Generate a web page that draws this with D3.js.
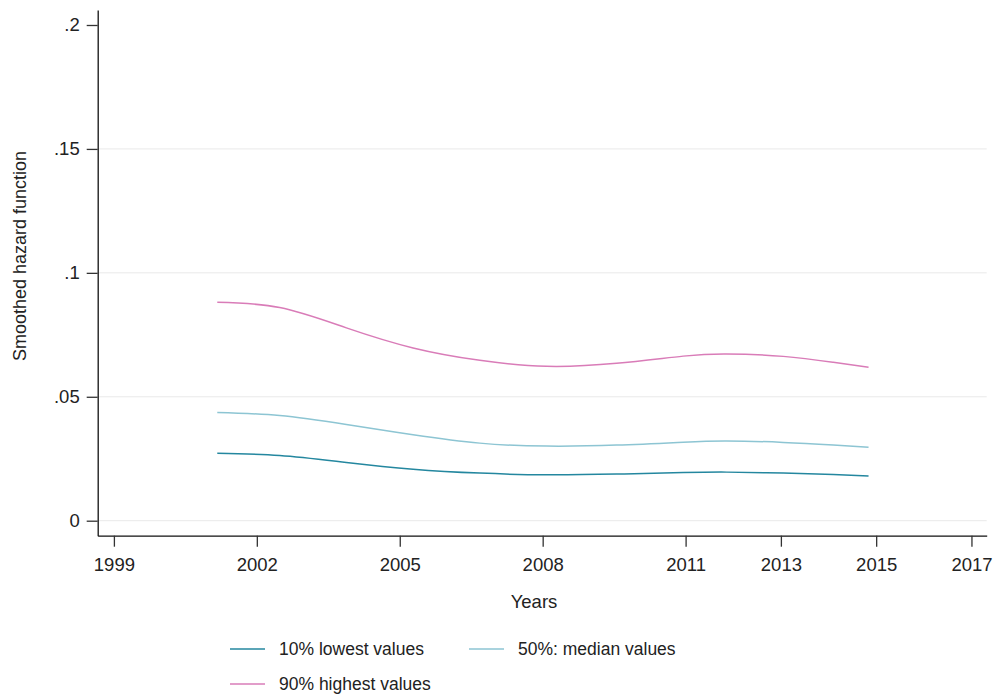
<!DOCTYPE html>
<html><head><meta charset="utf-8">
<script src="https://cdn.jsdelivr.net/npm/d3@7"></script>
<style>body{margin:0;background:#fff}svg{display:block}text{font-family:"Liberation Sans",Arial,sans-serif;fill:#222}</style>
</head><body><svg id="c" width="997" height="698"></svg>
<script>
const years = [2001.17, 2002.48, 2003.88, 2005.28, 2006.68, 2008.08, 2009.55, 2010.95, 2011.86, 2013.05, 2014.1, 2014.84];
const lowest = [0.0272, 0.0263, 0.0235, 0.0208, 0.0192, 0.0185, 0.0188, 0.0194, 0.0196, 0.0192, 0.0186, 0.0180];
const median = [0.0437, 0.0424, 0.0388, 0.0347, 0.0313, 0.0301, 0.0305, 0.0317, 0.0322, 0.0316, 0.0305, 0.0296];
const highest = [0.0881, 0.0860, 0.0778, 0.0697, 0.0647, 0.0623, 0.0635, 0.0664, 0.0673, 0.0663, 0.0639, 0.0619];
const xTicks = [1999, 2002, 2005, 2008, 2011, 2013, 2015, 2017];
const yTicks = [0, 0.05, 0.1, 0.15, 0.2];
const yTickLabels = ["0", ".05", ".1", ".15", ".2"];
const seriesNames = ["10% lowest values", "50%: median values", "90% highest values"];
const seriesColors = ["#24879f", "#8dc5d3", "#d97cb8"];

const svg = d3.select("#c");
const x = d3.scaleLinear().domain([1998.66, 2017.32]).range([97.7, 986.7]);
const y = d3.scaleLinear().domain([-0.00605, 0.20605]).range([535.7, 10]);

// gridlines
svg.append("g").selectAll("line").data(yTicks.filter(d => d < 0.2)).join("line")
  .attr("x1", x.range()[0]).attr("x2", x.range()[1])
  .attr("y1", d => y(d)).attr("y2", d => y(d))
  .attr("stroke", "#e9e9e9").attr("stroke-width", 1);

// y axis
const yAxis = svg.append("g").attr("transform", `translate(${x.range()[0]},0)`)
  .call(d3.axisLeft(y).tickValues(yTicks).tickFormat((d, i) => yTickLabels[i]).tickSize(11).tickPadding(7).tickSizeOuter(0));
yAxis.select(".domain").attr("stroke", "#111").attr("stroke-width", 1.3);
yAxis.selectAll(".tick line").attr("stroke", "#333").attr("stroke-width", 1.3);
yAxis.selectAll(".tick text").style("font-size", "18.5px").attr("fill", "#222");

// x axis
const xAxis = svg.append("g").attr("transform", `translate(0,${y.range()[0]})`)
  .call(d3.axisBottom(x).tickValues(xTicks).tickFormat(d3.format("d")).tickSize(11).tickPadding(11).tickSizeOuter(0));
xAxis.select(".domain").attr("stroke", "#111").attr("stroke-width", 1.3);
xAxis.selectAll(".tick line").attr("stroke", "#333").attr("stroke-width", 1.3);
xAxis.selectAll(".tick text").style("font-size", "18.5px").attr("fill", "#222");

svg.selectAll(".tick text").style("font-family", '"Liberation Sans",Arial,sans-serif');

// titles
svg.append("text").attr("x", 534).attr("y", 608).attr("text-anchor", "middle").style("font-size", "18.5px").text("Years");
svg.append("text").attr("transform", "translate(26,256) rotate(-90)").attr("text-anchor", "middle").style("font-size", "18px").text("Smoothed hazard function");

// lines
const seriesData = [lowest, median, highest];
const line = d3.line().x((d, i) => x(years[i])).y(d => y(d)).curve(d3.curveNatural);
svg.append("g").selectAll("path").data(seriesData).join("path")
  .attr("d", d => line(d)).attr("fill", "none")
  .attr("stroke", (d, i) => seriesColors[i]).attr("stroke-width", 1.5);

// legend
const legendPos = [[230, 649], [469, 649], [230, 684]];
const lg = svg.append("g").selectAll("g").data(seriesNames).join("g")
  .attr("transform", (d, i) => `translate(${legendPos[i][0]},${legendPos[i][1]})`);
lg.append("line").attr("x1", 0).attr("x2", 35).attr("y1", 0).attr("y2", 0)
  .attr("stroke", (d, i) => seriesColors[i]).attr("stroke-width", 1.5);
lg.append("text").attr("x", 49).attr("y", 0).attr("dy", "0.35em").style("font-size", "17.5px").text(d => d);
</script></body></html>
